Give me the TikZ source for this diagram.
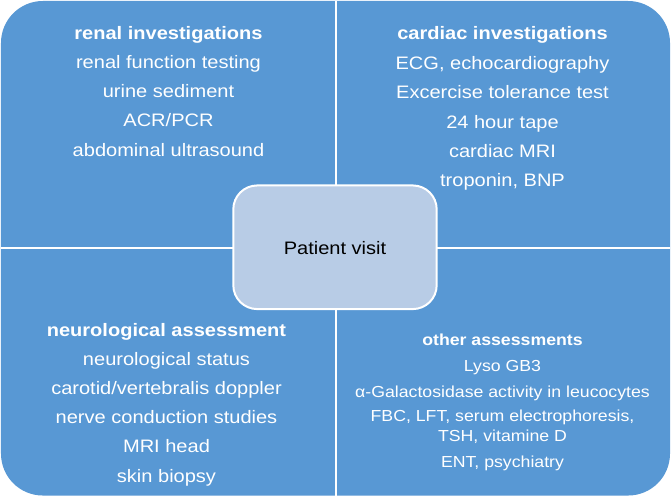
\documentclass[tikz,border=0pt]{standalone}
\usepackage{fontspec}
\setmainfont[FakeStretch=1.11]{Liberation Sans}
\definecolor{qblue}{RGB}{88,152,212}
\definecolor{cfill}{RGB}{184,204,230}
\begin{document}
\begin{tikzpicture}[x=1pt,y=-1pt,
  txt/.style={text=white, anchor=base, inner sep=0pt, font=\fontsize{18.1}{20}\selectfont},
  ttl/.style={txt, font=\fontsize{18.1}{20}\selectfont\bfseries},
  stxt/.style={txt, font=\fontsize{16}{18}\selectfont},
  sttl/.style={txt, font=\fontsize{16}{18}\selectfont\bfseries},
  sep/.style={white, line width=2pt}]
\fill[white] (0,0) rectangle (671,496);
\fill[qblue, rounded corners=42pt] (0,0) rectangle (671,496);
\draw[sep] (336,0) -- (336,496);
\draw[sep] (0,248) -- (671,248);
\node[draw=white, line width=2pt, fill=cfill, rounded corners=24pt,
      minimum width=204pt, minimum height=124pt] (pv) at (335,247) {};
\node[txt, text=black] (pvt) at (335,254) {Patient visit};
% renal
\node[ttl] (r0) at (168,39) {renal investigations};
\node[txt] (r1) at (168,68) {renal function testing};
\node[txt] (r2) at (168,97) {urine sediment};
\node[txt] (r3) at (168,126) {ACR/PCR};
\node[txt] (r4) at (168,156) {abdominal ultrasound};
% cardiac
\node[ttl] (c0) at (503,39) {cardiac investigations};
\node[txt] (c1) at (503,69) {ECG, echocardiography};
\node[txt] (c2) at (503,98) {Excercise tolerance test};
\node[txt] (c3) at (503,128) {24 hour tape};
\node[txt] (c4) at (503,157) {cardiac MRI};
\node[txt] (c5) at (503,186) {troponin, BNP};
% neuro
\node[ttl] (n0) at (166,337) {neurological assessment};
\node[txt] (n1) at (166,366) {neurological status};
\node[txt] (n2) at (166,395) {carotid/vertebralis doppler};
\node[txt] (n3) at (166,424) {nerve conduction studies};
\node[txt] (n4) at (166,453) {MRI head};
\node[txt] (n5) at (166,483) {skin biopsy};
% other
\node[sttl] (o0) at (503,346) {other assessments};
\node[stxt] (o1) at (503,372) {Lyso GB3};
\node[stxt] (o2) at (503,398) {α-Galactosidase activity in leucocytes};
\node[stxt] (o3) at (503,422) {FBC, LFT, serum electrophoresis,};
\node[stxt] (o4) at (503,442) {TSH, vitamine D};
\node[stxt] (o5) at (503,468) {ENT, psychiatry};
\end{tikzpicture}
\end{document}
